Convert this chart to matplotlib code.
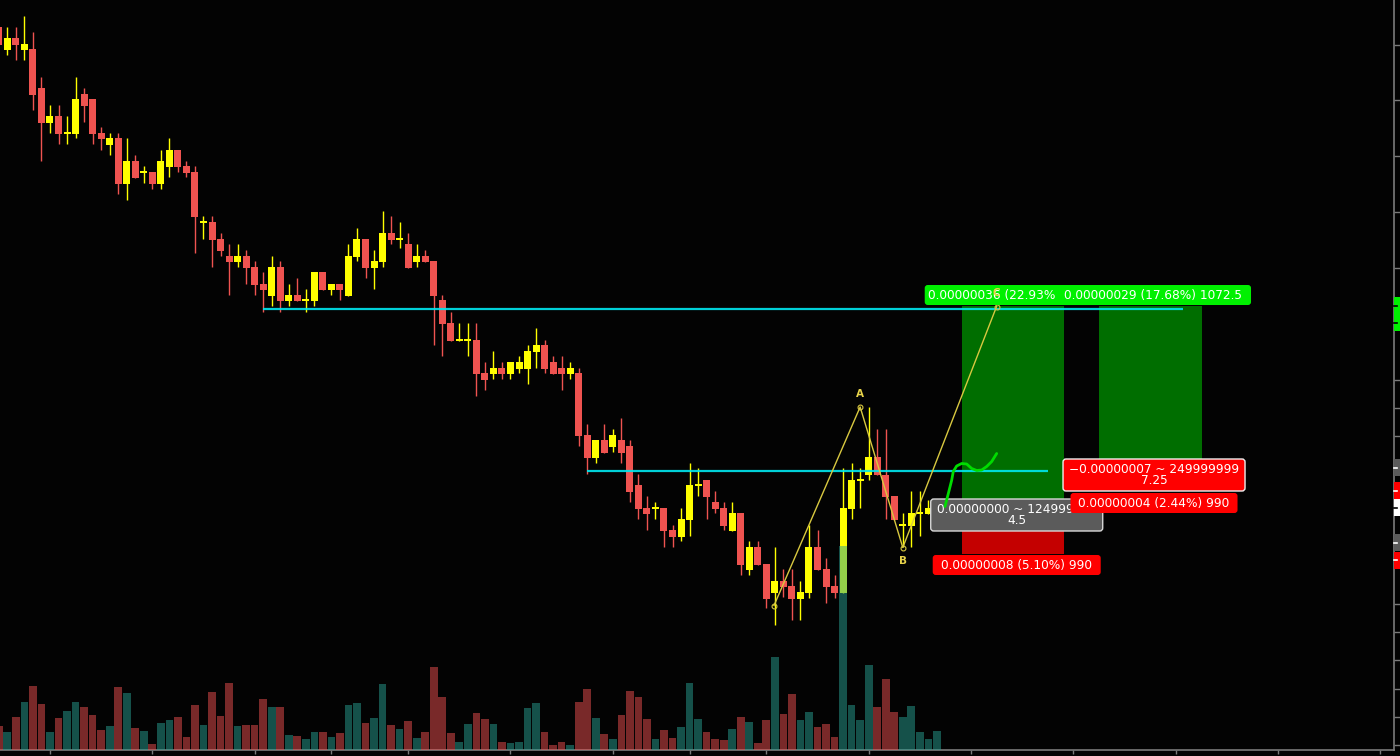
import matplotlib.pyplot as plt
from matplotlib.patches import Rectangle, FancyBboxPatch
import numpy as np

# OHLC of each candle (price in satoshi)
opens = [254.6, 250.0, 252.4, 250.0, 250.2, 242.4, 235.4, 236.8, 233.4, 233.2,
         241.2, 240.2, 233.4, 231.0, 232.4, 223.2, 227.8, 225.6, 225.6, 223.2,
         226.6, 230.0, 226.8, 225.6, 215.6, 215.6, 212.2, 208.8, 207.6, 208.8,
         206.6, 203.2, 200.8, 206.6, 199.8, 201.0, 200.0, 199.8, 205.6, 202.0,
         203.2, 200.8, 208.6, 212.2, 206.4, 207.6, 213.4, 212.2, 211.2, 207.6,
         208.8, 207.8, 200.0, 195.4, 192.0, 192.0, 192.0, 185.4, 185.2, 186.4,
         185.2, 186.2, 186.2, 189.6, 191.0, 187.6, 186.4, 185.2, 185.4, 173.0,
         168.4, 172.0, 170.6, 172.0, 170.8, 163.0, 158.4, 158.4, 158.4, 154.0,
         152.6, 156.0, 163.0, 164.0, 159.6, 158.4, 153.8, 157.4, 146.0, 150.6,
         147.2, 141.4, 143.8, 142.8, 140.2, 141.4, 150.6, 146.2, 142.8, 141.4,
         158.2, 164.0, 165.0, 168.6, 165.0, 160.8, 155.0, 154.8, 157.4, 157.2,
         158.0]
highs = [255.2, 254.6, 254.6, 256.8, 253.6, 244.6, 239.0, 239.0, 236.8, 244.6,
         242.4, 240.2, 234.6, 233.4, 233.4, 232.4, 229.0, 226.8, 225.6, 230.0,
         232.4, 230.0, 227.8, 226.8, 216.8, 216.8, 213.4, 211.2, 211.2, 210.0,
         207.8, 205.6, 208.8, 207.8, 203.2, 204.4, 202.2, 205.6, 205.6, 203.2,
         203.2, 211.2, 214.4, 212.2, 210.0, 217.8, 216.8, 215.6, 213.4, 211.2,
         210.0, 207.8, 201.0, 197.6, 195.4, 195.4, 195.4, 187.6, 189.8, 187.6,
         187.6, 188.8, 191.0, 194.4, 192.0, 188.8, 188.8, 187.6, 186.4, 175.2,
         172.0, 175.2, 174.2, 176.4, 172.0, 165.2, 160.8, 159.6, 158.4, 155.0,
         158.4, 167.4, 166.4, 164.0, 161.8, 159.6, 159.6, 157.4, 151.8, 151.8,
         147.2, 150.6, 146.2, 146.2, 143.8, 155.0, 154.0, 148.4, 145.0, 166.4,
         167.4, 166.4, 178.6, 174.2, 174.2, 160.8, 157.4, 161.8, 161.8, 160.0,
         159.2]
lows = [250.4, 249.0, 248.0, 248.0, 238.0, 227.8, 233.4, 231.2, 231.2, 232.4,
        235.6, 231.2, 230.0, 229.0, 221.2, 220.0, 224.4, 223.4, 222.2, 222.2,
        224.6, 225.6, 224.6, 209.4, 212.2, 206.6, 208.8, 201.0, 206.6, 203.2,
        201.0, 197.6, 198.8, 197.6, 198.8, 199.8, 197.6, 198.8, 202.0, 201.0,
        200.0, 200.8, 207.8, 204.4, 202.2, 206.6, 211.2, 210.4, 206.4, 206.6,
        207.6, 191.0, 188.8, 191.8, 191.8, 188.8, 180.8, 182.0, 184.2, 184.2,
        184.2, 185.4, 183.2, 186.4, 185.4, 185.2, 182.0, 184.2, 170.8, 165.2,
        167.4, 169.4, 169.6, 167.4, 159.6, 156.2, 154.0, 156.2, 150.6, 150.6,
        151.8, 152.8, 160.8, 156.2, 157.4, 154.0, 153.8, 145.0, 145.0, 147.0,
        138.4, 135.0, 140.6, 136.0, 136.0, 140.4, 146.0, 139.4, 140.4, 141.4,
        156.2, 158.4, 164.0, 165.0, 156.2, 156.0, 150.6, 150.6, 152.8, 157.2,
        157.6]
closes = [251.0, 252.4, 251.0, 251.2, 241.0, 235.4, 236.8, 233.2, 233.4, 240.2,
          238.8, 233.2, 232.2, 232.4, 223.2, 227.8, 224.4, 225.6, 223.2, 227.8,
          230.0, 226.6, 225.4, 216.6, 215.6, 212.0, 209.8, 207.6, 208.8, 206.4,
          203.0, 202.0, 206.6, 199.8, 201.0, 199.8, 200.0, 205.6, 202.0, 203.2,
          202.0, 208.8, 212.2, 206.4, 207.8, 213.4, 212.0, 212.2, 206.4, 208.8,
          207.6, 200.8, 195.2, 191.8, 192.0, 192.0, 185.2, 184.0, 186.4, 185.2,
          187.6, 187.6, 189.8, 191.0, 186.2, 185.2, 185.2, 186.4, 172.8, 168.4,
          172.0, 169.4, 173.0, 169.4, 161.6, 158.2, 157.2, 158.4, 153.8, 152.6,
          156.2, 163.0, 163.0, 160.6, 158.2, 154.8, 157.4, 147.0, 150.6, 147.0,
          140.2, 143.8, 142.6, 140.2, 141.6, 150.6, 146.0, 142.6, 141.4, 158.4,
          164.0, 164.0, 168.6, 165.0, 160.6, 156.0, 155.0, 157.4, 157.4, 158.4,
          158.8]
volumes = [24, 18, 33, 48, 64, 46, 18, 32, 39, 48, 43, 35, 20, 24, 63, 57, 22, 19,
           6, 27, 30, 33, 13, 45, 25, 58, 34, 67, 24, 25, 25, 51, 43, 43, 15, 14,
           11, 18, 18, 13, 17, 45, 47, 27, 32, 66, 25, 21, 29, 12, 18, 83, 53, 17,
           8, 26, 37, 31, 26, 8, 7, 8, 42, 47, 18, 5, 8, 5, 48, 61, 32, 16, 11, 35,
           59, 53, 31, 11, 20, 12, 23, 67, 31, 18, 11, 10, 21, 33, 28, 7, 30, 93,
           36, 56, 30, 38, 23, 26, 13, 204, 45, 30, 85, 43, 71, 38, 33, 44, 18, 11,
           19]

# drawings on the chart (bar index, price)
hline1_price, hline1_from, hline1_to = 198.2, 31.0, 138.9
hline2_price, hline2_from, hline2_to = 165.9, 69.0, 123.0
long1 = dict(x0=113.0, x1=124.9, target=198.8, entry=157.0, stop=149.3)
long2 = dict(x0=129.0, x1=141.1, target=198.8, entry=165.0, stop=161.8)
abcd_x = [90.9, 101.0, 106.0, 117.0]
abcd_y = [138.9, 178.6, 150.5, 198.7]
sketch_x = [110.95, 111.34, 111.74, 111.92, 112.32, 112.91, 113.49, 114.08,
            114.67, 115.25, 115.84, 116.43, 117.01]
sketch_y = [158.7, 161.3, 164.0, 165.7, 166.8, 167.3, 167.2, 166.3, 165.9,
            166.0, 166.7, 167.7, 169.3]
axis_tags = [(198.8, '#00f000', 'black'), (195.4, '#00f000', 'black'),
             (166.4, '#5b5b5b', 'white'), (161.8, '#ff0000', 'white'),
             (158.4, '#ffffff', 'black'), (151.4, '#5b5b5b', 'white'),
             (148.0, '#ff0000', 'white')]
price_ticks = [251.1, 240.1, 228.9, 217.7, 206.5, 195.3, 184.1, 178.5, 172.9,
               139.3, 133.7, 128.1, 122.3, 116.7, 111.1]
time_ticks = [6, 18, 30, 39, 48, 60, 72, 81, 90, 102, 114, 126, 138, 150, 162]

BG = '#030303'
UP, DOWN = '#ffff00', '#ef5350'
AXC = '#7a7a7a'
X0, X1 = 0.14, 163.6
Y0, Y1 = 110.0, 260.0
XPX = (X1 - X0) / 1394   # bar units per pixel
YPX = (Y1 - Y0) / 750    # price units per pixel
FONT = dict(family='DejaVu Sans', fontsize=8.7, color='white')

fig = plt.figure(figsize=(14, 7.56), dpi=100, facecolor=BG)
ax = fig.add_axes([0, 6 / 756, 1394 / 1400, 750 / 756], facecolor=BG)
ax.set_xlim(X0, X1)
ax.set_ylim(Y0, Y1)

o = np.array(opens); c = np.array(closes)
h = np.array(highs); l = np.array(lows)
x = np.arange(len(o))
up = c >= o
cols = np.where(up, UP, DOWN)
ax.vlines(x, l, h, colors=cols, lw=1.0, zorder=2)
body = np.maximum(np.abs(c - o), 1.2 * YPX)
bottom = np.where(np.abs(c - o) < 1e-9, o - 0.6 * YPX, np.minimum(o, c))
ax.bar(x, body, bottom=bottom, width=0.82, color=cols, zorder=3)

# long position tools
for pos in (long1, long2):
    ax.add_patch(Rectangle((pos['x0'], pos['entry']), pos['x1'] - pos['x0'],
                           pos['target'] - pos['entry'], fc='#006e00', ec='none', zorder=4))
    ax.add_patch(Rectangle((pos['x0'], pos['stop']), pos['x1'] - pos['x0'],
                           pos['entry'] - pos['stop'], fc='#c40000', ec='none', zorder=4))

# horizontal levels
ax.hlines(hline1_price, hline1_from, hline1_to, color='#00e8f0', lw=1.6, alpha=0.9, zorder=5)
ax.hlines(hline2_price, hline2_from, hline2_to, color='#00e8f0', lw=1.6, alpha=0.9, zorder=5)

# ABC pattern
ax.plot(abcd_x, abcd_y, color='#d8c840', lw=1.0, marker='o', ms=3.5,
        mfc='none', mec='#d8c840', mew=0.8, zorder=6)
for name, px, py, off in [('A', abcd_x[1], abcd_y[1], 13), ('B', abcd_x[2], abcd_y[2], -14),
                          ('C', abcd_x[3], abcd_y[3], 14)]:
    ax.text(px, py + off * YPX, name, ha='center', va='center', color='#e8d44a',
            fontsize=7.5, fontweight='bold', zorder=12)


def label(xc, yc, w, hgt, lines, fc, ec=None, z=8):
    ax.add_patch(FancyBboxPatch((xc - w * XPX / 2, yc - hgt * YPX / 2), w * XPX, hgt * YPX,
                                boxstyle=f"round,pad=0,rounding_size={3 * XPX}",
                                mutation_aspect=YPX / XPX, fc=fc,
                                ec=ec if ec else 'none', lw=1.0, zorder=z))
    if len(lines) == 1:
        ax.text(xc, yc, lines[0], ha='center', va='center', zorder=z + 0.1, **FONT)
    else:
        ax.text(xc, yc + 5.7 * YPX, lines[0], ha='center', va='center', zorder=z + 0.1, **FONT)
        ax.text(xc, yc - 5.8 * YPX, lines[1], ha='center', va='center', zorder=z + 0.1, **FONT)


c1 = (long1['x0'] + long1['x1']) / 2 + 3.5 * XPX
c2 = (long2['x0'] + long2['x1']) / 2 + 3.5 * XPX
label(c1, long1['target'] + 11 * YPX, 184, 20, ['0.00000036 (22.93%) 1072.5'], '#00f000', z=7)
label(c2 - 1 * XPX, long2['target'] + 11 * YPX, 196, 20, ['0.00000029 (17.68%) 1072.5'], '#00f000', z=8)
label(c1, long1['entry'], 172, 32, ['0.00000000 ~ 124999999', '4.5'], '#5b5b5b', ec='#d8d8d8', z=7)
label(c1, long1['stop'] - 11.5 * YPX, 168, 20, ['0.00000008 (5.10%) 990'], '#ff0000', z=7)
label(c2, long2['entry'], 182, 32, ['\u22120.00000007 ~ 249999999', '7.25'], '#ff0000', ec='#f0f0f0', z=8)
label(c2, long2['stop'] - 12 * YPX, 167, 20, ['0.00000004 (2.44%) 990'], '#ff0000', z=8)

# hand drawn curve
ax.plot(sketch_x, sketch_y, color='#00dc00', lw=2.0, zorder=10, solid_capstyle='round')

# price axis tags
ytr = ax.get_yaxis_transform()
for price, fc, tc in axis_tags:
    ax.add_patch(Rectangle((1.0, price - 8.5 * YPX), 0.005, 17 * YPX, fc=fc, ec='none',
                           transform=ytr, clip_on=False, zorder=20))
    ax.plot([1.0, 1.0025], [price, price], color=tc, lw=1.2, transform=ytr,
            clip_on=False, zorder=21)

# axes styling
for side in ('top', 'left'):
    ax.spines[side].set_visible(False)
for side in ('bottom', 'right'):
    ax.spines[side].set_color(AXC)
    ax.spines[side].set_linewidth(1.2)
ax.set_yticks(price_ticks)
ax.set_xticks(time_ticks)
ax.yaxis.tick_right()
ax.tick_params(axis='y', direction='out', length=4, width=1, colors=AXC,
               labelright=False, labelleft=False)
ax.tick_params(axis='x', direction='out', length=3, width=1, colors=AXC, labelbottom=False)

# volume pane
vax = fig.add_axes(ax.get_position(), sharex=ax, facecolor='none')
vax.set_ylim(0, 750)
vax.bar(x, volumes, width=0.9, color=np.where(up, '#28a092', '#f05050'), alpha=0.5, zorder=2)
vax.axis('off')
vax.set_xlim(X0, X1)

fig.savefig('out.png', dpi=100, facecolor=BG)
